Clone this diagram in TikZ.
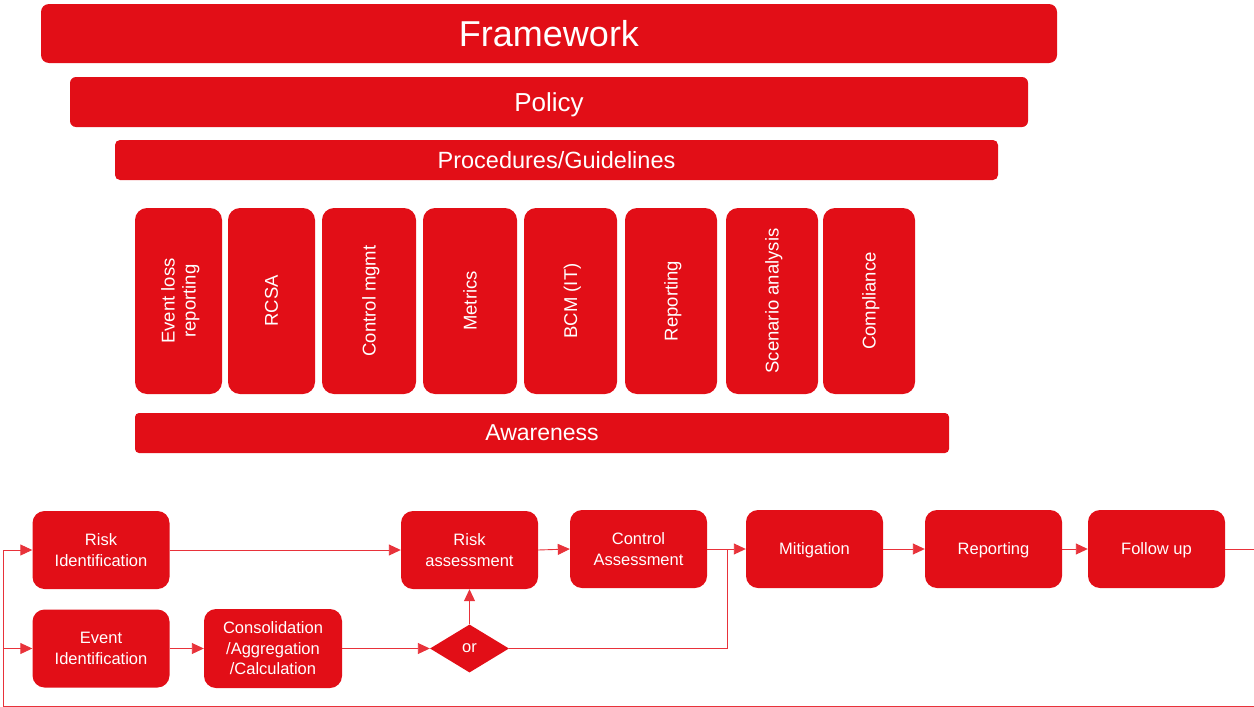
\documentclass[tikz,border=0pt]{standalone}
\usepackage{fontspec}
\setmainfont{Liberation Sans}
\usetikzlibrary{arrows.meta,shapes.geometric}
\definecolor{orred}{HTML}{E20E17}
\definecolor{orline}{HTML}{E8323A}
\tikzset{
  band/.style={fill=orred, text=white, inner sep=0pt, anchor=center, text depth=0pt},
  pillar/.style={fill=orred, text=white, inner sep=0pt, rounded corners=12pt,
    minimum height=186pt},
  pillartext/.style={text=white, align=center, rotate=90, text depth=0pt,
    font=\fontsize{18.5}{21}\selectfont},
  stepbox/.style={fill=orred, text=white, inner sep=0pt, rounded corners=12pt,
    minimum width=137pt, minimum height=78pt, align=center, text depth=0pt,
    font=\fontsize{16.5}{20.5}\selectfont},
  orbox/.style={diamond, fill=orred, text=white, inner sep=0pt, text depth=0pt,
    minimum width=79pt, minimum height=48pt,
    font=\fontsize{16.5}{20.5}\selectfont},
  flow/.style={draw=orline, line width=0.9pt},
  flowarr/.style={flow, -{Triangle[length=12pt,width=11pt]}},
}
\begin{document}
\begin{tikzpicture}[x=1pt,y=-1pt]
\useasboundingbox (0,0) rectangle (1254,707);

% stacked governance bands
\node[band, rounded corners=8pt, minimum width=1016pt, minimum height=59pt,
  font=\fontsize{36}{40}\selectfont] (framework) at (549,33.5) {Framework};
\node[band, rounded corners=6pt, minimum width=958pt, minimum height=50pt,
  font=\fontsize{26}{30}\selectfont] (policy) at (549,102) {Policy};
\node[band, rounded corners=5pt, minimum width=883pt, minimum height=40pt,
  font=\fontsize{23.5}{27}\selectfont] (proc) at (556.5,160) {Procedures/Guidelines};

% pillars
\node[pillar, minimum width=87pt] (p1) at (178.5,301) {};
\node[pillartext] (t1) at (p1) {Event loss\\reporting};
\node[pillar, minimum width=87pt] (p2) at (271.5,301) {};
\node[pillartext] (t2) at (p2) {RCSA};
\node[pillar, minimum width=94pt] (p3) at (369,301) {};
\node[pillartext] (t3) at (p3) {Control mgmt};
\node[pillar, minimum width=94pt] (p4) at (470,301) {};
\node[pillartext] (t4) at (p4) {Metrics};
\node[pillar, minimum width=93pt] (p5) at (570.5,301) {};
\node[pillartext] (t5) at (p5) {BCM (IT)};
\node[pillar, minimum width=92pt] (p6) at (671,301) {};
\node[pillartext] (t6) at (p6) {Reporting};
\node[pillar, minimum width=92pt] (p7) at (772,301) {};
\node[pillartext] (t7) at (p7) {Scenario analysis};
\node[pillar, minimum width=92pt] (p8) at (869,301) {};
\node[pillartext] (t8) at (p8) {Compliance};

\node[band, rounded corners=4pt, minimum width=814pt, minimum height=40pt,
  font=\fontsize{23}{27}\selectfont] (aware) at (542,433) {Awareness};

% process flow
\node[stepbox] (riskid) at (101,550) {Risk\\Identification};
\node[stepbox] (riska) at (469.5,550) {Risk\\assessment};
\node[stepbox] (ctrla) at (638.5,549) {Control\\Assessment};
\node[stepbox] (mitig) at (814.5,549) {Mitigation};
\node[stepbox] (report) at (993.5,549) {Reporting};
\node[stepbox] (follow) at (1156.5,549) {Follow up};
\node[stepbox] (eventid) at (101,648.5) {Event\\Identification};
\node[stepbox, minimum width=138pt, minimum height=79pt] (consol) at (273,648.5)
  {Consolidation\\/Aggregation\\/Calculation};
\node[orbox] (or) at (469.5,648.5) {or};

% loop-back rail
\coordinate (rtop) at (1254,549);
\coordinate (rbot) at (1254,706);
\coordinate (lbot) at (3,706);
\coordinate (ltop) at (3,550);
\coordinate (lmid) at (3,648.5);
\coordinate (join) at (727,549);

\draw[flow] (follow.east) -- (rtop);
\draw[flow] (rbot) -- (lbot) -- (ltop);
\draw[flowarr] (ltop) -- (riskid.west);
\draw[flowarr] (lmid) -- (eventid.west);
\draw[flowarr] (riskid.east) -- (riska.west);
\draw[flowarr] (eventid.east) -- (consol.west);
\draw[flowarr] (consol.east) -- (or.west);
\draw[flowarr] (or.north) -- (riska.south);
\draw[flowarr] (riska.east) -- (ctrla.west);
\draw[flowarr] (ctrla.east) -- (mitig.west);
\draw[flow] (or.east) -| (join);
\draw[flowarr] (mitig.east) -- (report.west);
\draw[flowarr] (report.east) -- (follow.west);
\end{tikzpicture}
\end{document}
